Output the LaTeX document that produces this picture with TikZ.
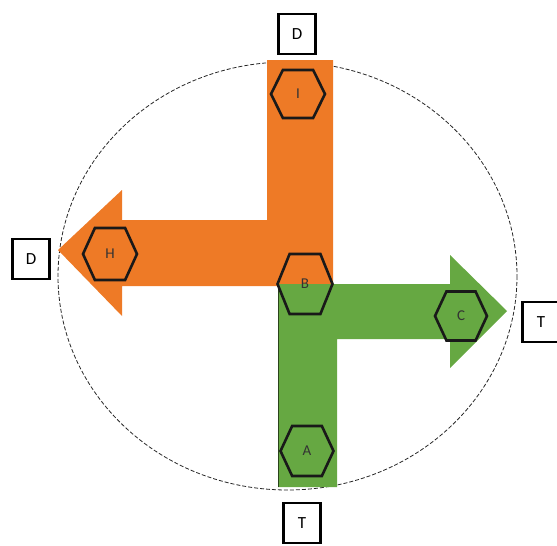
\documentclass[tikz,border=0pt]{standalone}
\usepackage{fontspec}
\setmainfont{Carlito}
\definecolor{org}{HTML}{EE7A26}
\definecolor{grn}{HTML}{66A842}
\newcommand{\myhex}[5]{%
  \draw[hexline] (#1-#3/2,#2) -- (#1-#3*0.28,#2-#4/2) -- (#1+#3*0.28,#2-#4/2) -- (#1+#3/2,#2) -- (#1+#3*0.28,#2+#4/2) -- (#1-#3*0.28,#2+#4/2) -- cycle;
  \node[hexlabel] (#5) at (#1,#2) {#5};}
\begin{document}
\begin{tikzpicture}[x=1pt,y=-1pt,
  hexline/.style={line width=2.6pt, draw=black!90, line join=miter},
  hexlabel/.style={font=\fontsize{15}{15}\selectfont, text=black!80, inner sep=0pt},
  labbox/.style={draw=black, line width=2.6pt, minimum width=37pt, minimum height=40pt, inner sep=0pt, font=\fontsize{17}{17}\selectfont, fill=white}]
\useasboundingbox (0,0) rectangle (557,546);
% circle
\draw[dash pattern=on 4pt off 2pt, black!85, line width=0.8pt] (287.5,276) ellipse [x radius=229.5, y radius=214];
% orange L arrow
\fill[org] (267,60) -- (333,60) -- (333,286) -- (122,286) -- (122,316) -- (58,250) -- (122,190) -- (122,220) -- (267,220) -- cycle;
% green L arrow
\fill[grn] (278,284) -- (450,284) -- (450,255) -- (507,311) -- (450,368) -- (450,339) -- (337,339) -- (337,487) -- (278,487) -- cycle;
\draw[black!60!grn, line width=0.8pt] (278,284) -- (278,487);
% hexagons
\myhex{298}{94}{54}{48}{I}
\myhex{110}{254}{54}{52}{H}
\myhex{305}{284}{55}{60}{B}
\myhex{461}{316}{52}{49}{C}
\myhex{307}{451}{53}{50}{A}
% label boxes
\node[labbox] (dtop) at (297,34) {D};
\node[labbox] (dleft) at (31,259) {D};
\node[labbox] (tright) at (541,322) {T};
\node[labbox] (tbot) at (302,523) {T};
\end{tikzpicture}
\end{document}
